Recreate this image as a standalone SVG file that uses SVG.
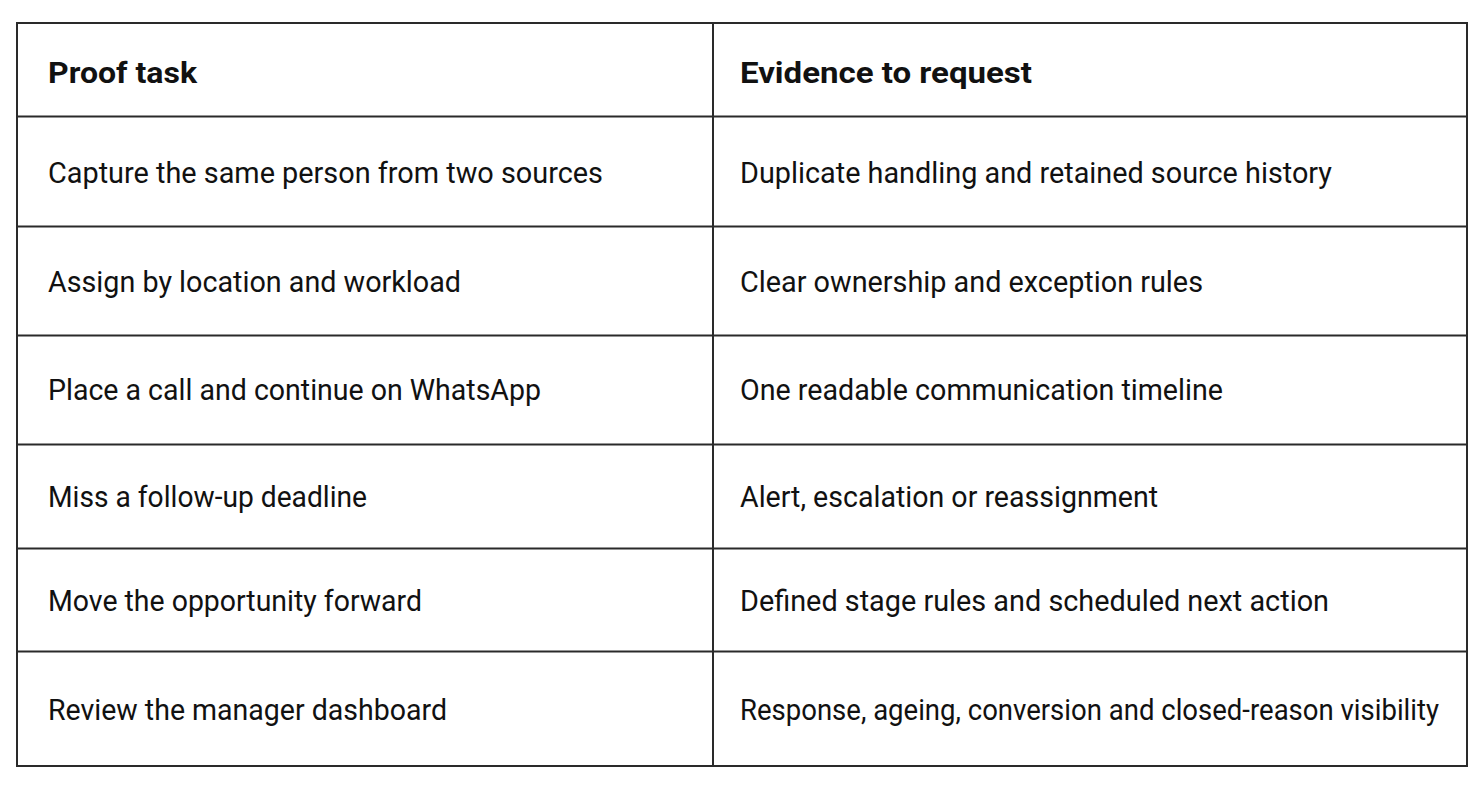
<svg xmlns="http://www.w3.org/2000/svg" width="1482" height="786" viewBox="0 0 1482 786">
<style>
.grid{stroke:#2a2a2a;stroke-width:2;fill:none}
.h{font-family:Roboto,"Liberation Sans",sans-serif;font-size:30px;font-weight:700;fill:#111}
.t{font-family:Roboto,"Liberation Sans",sans-serif;font-size:29px;font-weight:400;fill:#111}
</style>
<rect width="1482" height="786" fill="#ffffff"/>
<g id="grid">
<rect class="grid" x="17" y="23" width="1450" height="743"/>
<line class="grid" x1="713" y1="23" x2="713" y2="766"/>
<line class="grid" x1="17" y1="116.5" x2="1467" y2="116.5"/>
<line class="grid" x1="17" y1="226.5" x2="1467" y2="226.5"/>
<line class="grid" x1="17" y1="335.5" x2="1467" y2="335.5"/>
<line class="grid" x1="17" y1="444.5" x2="1467" y2="444.5"/>
<line class="grid" x1="17" y1="548.5" x2="1467" y2="548.5"/>
<line class="grid" x1="17" y1="651.5" x2="1467" y2="651.5"/>
</g>
<g id="header">
<text class="h" x="48" y="83" textLength="149" lengthAdjust="spacingAndGlyphs">Proof task</text>
<text class="h" x="740" y="83" textLength="292" lengthAdjust="spacingAndGlyphs">Evidence to request</text>
</g>
<g id="row1">
<text class="t" x="48" y="183" textLength="555" lengthAdjust="spacingAndGlyphs">Capture the same person from two sources</text>
<text class="t" x="740" y="183" textLength="592" lengthAdjust="spacingAndGlyphs">Duplicate handling and retained source history</text>
</g>
<g id="row2">
<text class="t" x="48" y="292" textLength="413" lengthAdjust="spacingAndGlyphs">Assign by location and workload</text>
<text class="t" x="740" y="292" textLength="463" lengthAdjust="spacingAndGlyphs">Clear ownership and exception rules</text>
</g>
<g id="row3">
<text class="t" x="48" y="400" textLength="493" lengthAdjust="spacingAndGlyphs">Place a call and continue on WhatsApp</text>
<text class="t" x="740" y="400" textLength="483" lengthAdjust="spacingAndGlyphs">One readable communication timeline</text>
</g>
<g id="row4">
<text class="t" x="48" y="507" textLength="319" lengthAdjust="spacingAndGlyphs">Miss a follow-up deadline</text>
<text class="t" x="740" y="507" textLength="418" lengthAdjust="spacingAndGlyphs">Alert, escalation or reassignment</text>
</g>
<g id="row5">
<text class="t" x="48" y="611" textLength="374" lengthAdjust="spacingAndGlyphs">Move the opportunity forward</text>
<text class="t" x="740" y="611" textLength="589" lengthAdjust="spacingAndGlyphs">Defined stage rules and scheduled next action</text>
</g>
<g id="row6">
<text class="t" x="48" y="720" textLength="399" lengthAdjust="spacingAndGlyphs">Review the manager dashboard</text>
<text class="t" x="740" y="720" textLength="699" lengthAdjust="spacingAndGlyphs">Response, ageing, conversion and closed-reason visibility</text>
</g>
</svg>
